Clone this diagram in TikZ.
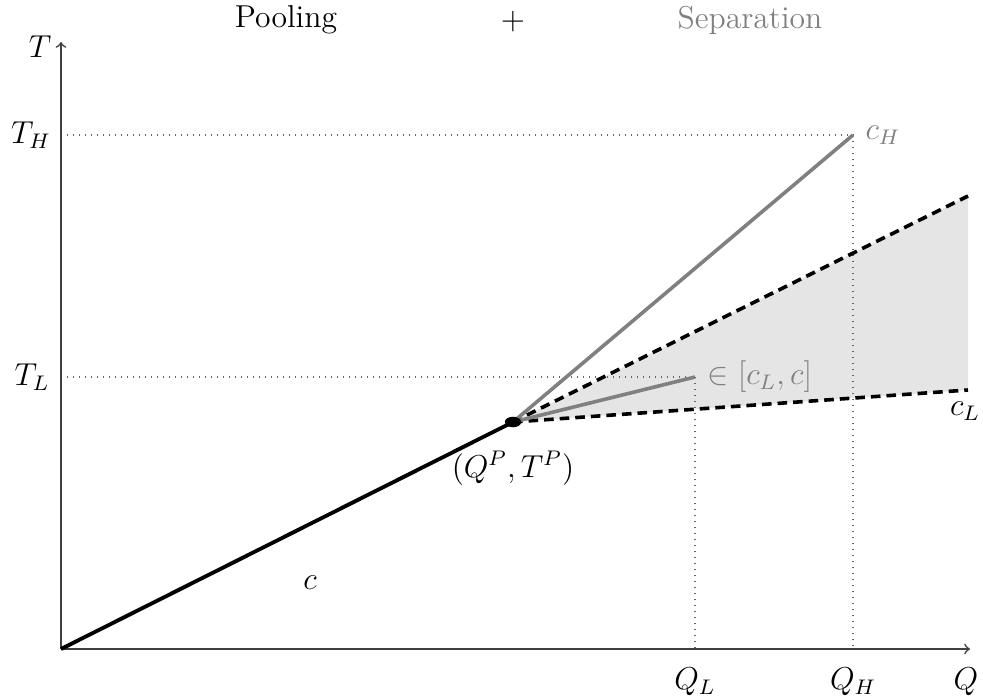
\documentclass[tikz,border=0pt]{standalone}
\usetikzlibrary{shapes.geometric}
\begin{document}
\begin{tikzpicture}[x=0.4167pt,y=-0.4167pt,
  axisline/.style={draw=black!75,line width=0.7pt,->},
  guide/.style={draw=black!60,dotted,line width=0.5pt},
  poolline/.style={draw=black,line width=1.6pt},
  sepline/.style={draw=black!50,line width=1.5pt},
  bound/.style={draw=black,line width=1.5pt,dash pattern=on 4pt off 2.5pt},
  lbl/.style={font=\large,scale=1.1},
  graylbl/.style={font=\large,scale=1.1,text=black!50}]
\useasboundingbox (0,0) rectangle (983,697);
% coordinates
\coordinate (O) at (61,649);
\coordinate (P) at (513,422);
\coordinate (H) at (853,135);
\coordinate (L) at (695,377);
\coordinate (U) at (968,196);
\coordinate (D) at (968,390);
\coordinate (Ytop) at (61,42);
\coordinate (Xend) at (970,649);
\coordinate (QLb) at (695,649);
\coordinate (QHb) at (853,649);
\coordinate (THa) at (61,135);
\coordinate (TLa) at (61,377);
% shaded region
\fill[black!10] (P) -- (U) -- (D) -- cycle;
% guides
\draw[guide] (THa) -- (H);
\draw[guide] (H) -- (QHb);
\draw[guide] (TLa) -- (L);
\draw[guide] (L) -- (QLb);
% axes
\draw[axisline] (O) -- (Ytop);
\draw[axisline] (O) -- (Xend);
% lines
\draw[bound] (P) -- (U);
\draw[bound] (P) -- (D);
\draw[sepline] (P) -- (H);
\draw[sepline] (P) -- (L);
\draw[poolline] (O) -- (P);
\node[ellipse,fill=black,inner sep=0pt,minimum width=6.8pt,minimum height=4.4pt] (dot) at (P) {};
% labels
\node[lbl] (tT) at (40,47) {$T$};
\node[lbl] (tTH) at (31,135) {$T_H$};
\node[lbl] (tTL) at (32,377) {$T_L$};
\node[lbl] (tQL) at (695,682) {$Q_L$};
\node[lbl] (tQH) at (853,682) {$Q_H$};
\node[lbl] (tQ) at (966,682) {$Q$};
\node[lbl] (tc) at (310,583) {$c$};
\node[lbl] (tP) at (513,468) {$(Q^P,T^P)$};
\node[graylbl] (tcH) at (883,135) {$c_H$};
\node[graylbl] (tin) at (760,377) {$\in[c_L,c]$};
\node[lbl] (tcL) at (965,411) {$c_L$};
\node[lbl] (tPool) at (286,20) {Pooling};
\node[lbl] (tPlus) at (513,22) {$+$};
\node[graylbl] (tSep) at (750,20) {Separation};
\end{tikzpicture}
\end{document}
